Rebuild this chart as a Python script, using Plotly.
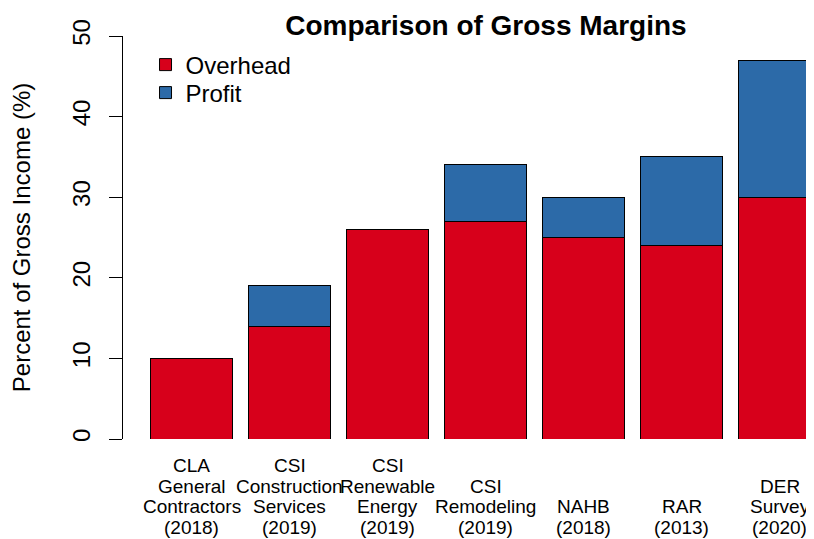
import plotly.graph_objects as go

# Data
sources = ["CLA\nGeneral\nContractors\n(2018)",
           "CSI\nConstruction\nServices\n(2019)",
           "CSI\nRenewable\nEnergy\n(2019)",
           "CSI\nRemodeling\n(2019)",
           "NAHB\n(2018)",
           "RAR\n(2013)",
           "DER\nSurvey\n(2020)"]
overhead = [10, 14, 26, 27, 25, 24, 30]
profit = [0, 5, 0, 7, 5, 11, 17]
y_ticks = [0, 10, 20, 30, 40, 50]

red = "#D7001B"
blue = "#2C6AA8"
font = "Liberation Sans, Arial, sans-serif"

x = list(range(len(sources)))

fig = go.Figure()
fig.add_trace(go.Bar(x=x, y=overhead, name="Overhead", marker_color=red,
                     marker_line=dict(color="black", width=1), legend="legend"))
fig.add_trace(go.Bar(x=x, y=profit, name="Profit", marker_color=blue,
                     marker_line=dict(color="black", width=1), legend="legend2"))

# multi-line category names, bottom aligned like R's barplot names
for i, name in enumerate(sources):
    for j, line in enumerate(reversed(name.split("\n"))):
        fig.add_annotation(x=i, y=0, xref="x", yref="paper", text=line, showarrow=False,
                           xanchor="center", yanchor="middle", yshift=-(88 - 20.5 * j),
                           font=dict(size=19))

# page body adds an 8px offset, so the figure is 8px smaller than the window
leg = dict(x=0.0326, xanchor="left", yanchor="middle", font=dict(size=24),
           bgcolor="rgba(0,0,0,0)")
fig.update_layout(
    width=806, height=531,
    barmode="stack", bargap=1 - 1 / 1.2,
    plot_bgcolor="white", paper_bgcolor="white",
    font=dict(family=font, color="black"),
    margin=dict(l=115, r=0, t=28, b=100),
    title=dict(text="<b>Comparison of Gross Margins</b>", x=0.593, xanchor="center",
               y=0.968, yanchor="middle", font=dict(size=28)),
    legend=dict(leg, y=1 - 29 / 403),
    legend2=dict(leg, y=1 - 57 / 403),
    showlegend=True,
)
fig.update_xaxes(range=[-0.699, 6.352], showticklabels=False, showline=False,
                 showgrid=False, zeroline=False, ticks="", automargin=False)
fig.update_yaxes(range=[0, 50], tickvals=y_ticks, tickangle=-90, automargin=False,
                 tickfont=dict(size=24), showline=True, linecolor="black", linewidth=1,
                 ticks="outside", ticklen=13, tickcolor="black", showgrid=False,
                 zeroline=False, ticklabelstandoff=9,
                 title=dict(text="Percent of Gross Income (%)", font=dict(size=24), standoff=36))

fig.write_html("out.html")
